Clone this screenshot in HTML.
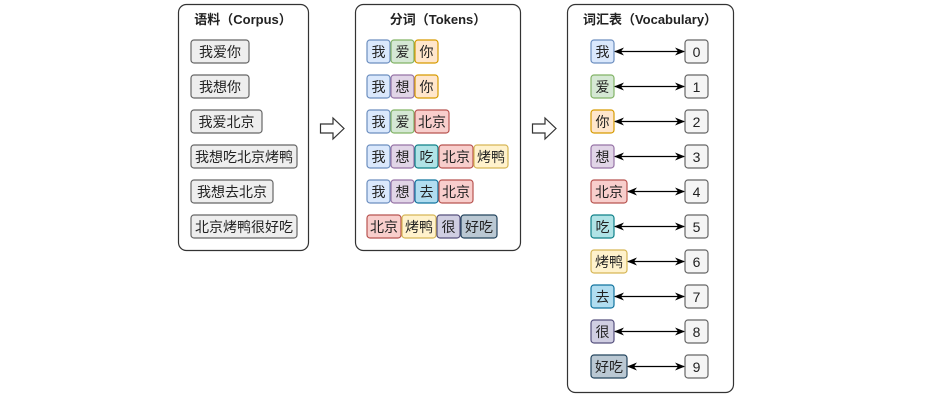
<!DOCTYPE html>
<html><head><meta charset="utf-8"><style>
html,body{margin:0;padding:0;background:#fff;}
svg text{font-family:"Liberation Sans","Noto Sans CJK SC",sans-serif;font-size:14px;fill:#222;text-anchor:middle;}
svg text.t{font-weight:bold;font-size:13px;}
</style></head><body>
<svg width="936" height="405" viewBox="0 0 936 405" xmlns="http://www.w3.org/2000/svg">
<defs>
<marker id="a" viewBox="0 0 10 10" refX="9" refY="5" markerWidth="10" markerHeight="10" orient="auto-start-reverse" markerUnits="userSpaceOnUse"><path d="M0,1 L10,5 L0,9 L3,5 Z" fill="#000"/></marker>
</defs>
<rect x="178.5" y="4.5" width="130" height="246" rx="8" fill="#fff" stroke="#333" stroke-width="1.2"/>
<rect x="355.5" y="4.5" width="165" height="246" rx="8" fill="#fff" stroke="#333" stroke-width="1.2"/>
<rect x="567.5" y="4.5" width="166" height="388" rx="8" fill="#fff" stroke="#333" stroke-width="1.2"/>
<text class="t" x="243" y="24">语料（Corpus）</text>
<text class="t" x="438" y="24">分词（Tokens）</text>
<text class="t" x="650" y="24">词汇表（Vocabulary）</text>
<g fill="#eeeeee" stroke="#666" stroke-width="1.2">
<rect x="191" y="40" width="58" height="23" rx="3"/>
<rect x="191" y="75" width="58" height="23" rx="3"/>
<rect x="191" y="110" width="71" height="23" rx="3"/>
<rect x="191" y="145" width="106" height="23" rx="3"/>
<rect x="191" y="180" width="82" height="23" rx="3"/>
<rect x="191" y="215" width="106" height="23" rx="3"/>
</g>
<text x="220" y="57">我爱你</text>
<text x="220" y="92">我想你</text>
<text x="226.5" y="127">我爱北京</text>
<text x="244" y="162">我想吃北京烤鸭</text>
<text x="232" y="197">我想去北京</text>
<text x="244" y="232">北京烤鸭很好吃</text>
<path d="M320.5,124 L333,124 L333,118 L344,128.5 L333,139 L333,133 L320.5,133 Z" fill="#fff" stroke="#333" stroke-width="1.2"/>
<path d="M532.5,124 L545,124 L545,118 L556,128.5 L545,139 L545,133 L532.5,133 Z" fill="#fff" stroke="#333" stroke-width="1.2"/>
<g stroke-width="1.2">
<rect x="367" y="40" width="23" height="23" rx="3" fill="#dae8fc" stroke="#6c8ebf"/>
<rect x="391" y="40" width="23" height="23" rx="3" fill="#d5e8d4" stroke="#82b366"/>
<rect x="415" y="40" width="23" height="23" rx="3" fill="#ffe6cc" stroke="#d79b00"/>
<rect x="367" y="75" width="23" height="23" rx="3" fill="#dae8fc" stroke="#6c8ebf"/>
<rect x="391" y="75" width="23" height="23" rx="3" fill="#e1d5e7" stroke="#9673a6"/>
<rect x="415" y="75" width="23" height="23" rx="3" fill="#ffe6cc" stroke="#d79b00"/>
<rect x="367" y="110" width="23" height="23" rx="3" fill="#dae8fc" stroke="#6c8ebf"/>
<rect x="391" y="110" width="23" height="23" rx="3" fill="#d5e8d4" stroke="#82b366"/>
<rect x="415" y="110" width="34" height="23" rx="3" fill="#f8cecc" stroke="#b85450"/>
<rect x="367" y="145" width="23" height="23" rx="3" fill="#dae8fc" stroke="#6c8ebf"/>
<rect x="391" y="145" width="23" height="23" rx="3" fill="#e1d5e7" stroke="#9673a6"/>
<rect x="415" y="145" width="23" height="23" rx="3" fill="#b0e3e6" stroke="#0e8088"/>
<rect x="439" y="145" width="34" height="23" rx="3" fill="#f8cecc" stroke="#b85450"/>
<rect x="474" y="145" width="34" height="23" rx="3" fill="#fff2cc" stroke="#d6b656"/>
<rect x="367" y="180" width="23" height="23" rx="3" fill="#dae8fc" stroke="#6c8ebf"/>
<rect x="391" y="180" width="23" height="23" rx="3" fill="#e1d5e7" stroke="#9673a6"/>
<rect x="415" y="180" width="23" height="23" rx="3" fill="#b1ddf0" stroke="#10739e"/>
<rect x="439" y="180" width="34" height="23" rx="3" fill="#f8cecc" stroke="#b85450"/>
<rect x="367" y="215" width="34" height="23" rx="3" fill="#f8cecc" stroke="#b85450"/>
<rect x="402" y="215" width="34" height="23" rx="3" fill="#fff2cc" stroke="#d6b656"/>
<rect x="437" y="215" width="23" height="23" rx="3" fill="#d0cee2" stroke="#56517e"/>
<rect x="461" y="215" width="36" height="23" rx="3" fill="#bac8d3" stroke="#23445d"/>
</g>
<text x="378.5" y="57">我</text><text x="402.5" y="57">爱</text><text x="426.5" y="57">你</text>
<text x="378.5" y="92">我</text><text x="402.5" y="92">想</text><text x="426.5" y="92">你</text>
<text x="378.5" y="127">我</text><text x="402.5" y="127">爱</text><text x="432" y="127">北京</text>
<text x="378.5" y="162">我</text><text x="402.5" y="162">想</text><text x="426.5" y="162">吃</text><text x="456" y="162">北京</text><text x="491" y="162">烤鸭</text>
<text x="378.5" y="197">我</text><text x="402.5" y="197">想</text><text x="426.5" y="197">去</text><text x="456" y="197">北京</text>
<text x="384" y="232">北京</text><text x="419" y="232">烤鸭</text><text x="448.5" y="232">很</text><text x="479" y="232">好吃</text>
<g stroke-width="1.2">
<rect x="591" y="40" width="23" height="23" rx="3" fill="#dae8fc" stroke="#6c8ebf"/>
<rect x="591" y="75" width="23" height="23" rx="3" fill="#d5e8d4" stroke="#82b366"/>
<rect x="591" y="110" width="23" height="23" rx="3" fill="#ffe6cc" stroke="#d79b00"/>
<rect x="591" y="145" width="23" height="23" rx="3" fill="#e1d5e7" stroke="#9673a6"/>
<rect x="591" y="180" width="36" height="23" rx="3" fill="#f8cecc" stroke="#b85450"/>
<rect x="591" y="215" width="23" height="23" rx="3" fill="#b0e3e6" stroke="#0e8088"/>
<rect x="591" y="250" width="36" height="23" rx="3" fill="#fff2cc" stroke="#d6b656"/>
<rect x="591" y="285" width="23" height="23" rx="3" fill="#b1ddf0" stroke="#10739e"/>
<rect x="591" y="320" width="23" height="23" rx="3" fill="#d0cee2" stroke="#56517e"/>
<rect x="591" y="355" width="36" height="23" rx="3" fill="#bac8d3" stroke="#23445d"/>
</g>
<g fill="#f5f5f5" stroke="#666" stroke-width="1.2">
<rect x="685" y="40" width="23" height="23" rx="3"/>
<rect x="685" y="75" width="23" height="23" rx="3"/>
<rect x="685" y="110" width="23" height="23" rx="3"/>
<rect x="685" y="145" width="23" height="23" rx="3"/>
<rect x="685" y="180" width="23" height="23" rx="3"/>
<rect x="685" y="215" width="23" height="23" rx="3"/>
<rect x="685" y="250" width="23" height="23" rx="3"/>
<rect x="685" y="285" width="23" height="23" rx="3"/>
<rect x="685" y="320" width="23" height="23" rx="3"/>
<rect x="685" y="355" width="23" height="23" rx="3"/>
</g>
<g stroke="#000" stroke-width="1.3" marker-start="url(#a)" marker-end="url(#a)">
<line x1="615" y1="51.5" x2="684" y2="51.5"/>
<line x1="615" y1="86.5" x2="684" y2="86.5"/>
<line x1="615" y1="121.5" x2="684" y2="121.5"/>
<line x1="615" y1="156.5" x2="684" y2="156.5"/>
<line x1="628" y1="191.5" x2="684" y2="191.5"/>
<line x1="615" y1="226.5" x2="684" y2="226.5"/>
<line x1="628" y1="261.5" x2="684" y2="261.5"/>
<line x1="615" y1="296.5" x2="684" y2="296.5"/>
<line x1="615" y1="331.5" x2="684" y2="331.5"/>
<line x1="628" y1="366.5" x2="684" y2="366.5"/>
</g>
<text x="602.5" y="57">我</text><text x="602.5" y="92">爱</text><text x="602.5" y="127">你</text><text x="602.5" y="162">想</text>
<text x="609" y="197">北京</text><text x="602.5" y="232">吃</text><text x="609" y="267">烤鸭</text><text x="602.5" y="302">去</text>
<text x="602.5" y="337">很</text><text x="609" y="372">好吃</text>
<g style="fill:#444">
<text x="696.5" y="57">0</text><text x="696.5" y="92">1</text><text x="696.5" y="127">2</text><text x="696.5" y="162">3</text>
<text x="696.5" y="197">4</text><text x="696.5" y="232">5</text><text x="696.5" y="267">6</text><text x="696.5" y="302">7</text>
<text x="696.5" y="337">8</text><text x="696.5" y="372">9</text>
</g>
</svg>
</body></html>
